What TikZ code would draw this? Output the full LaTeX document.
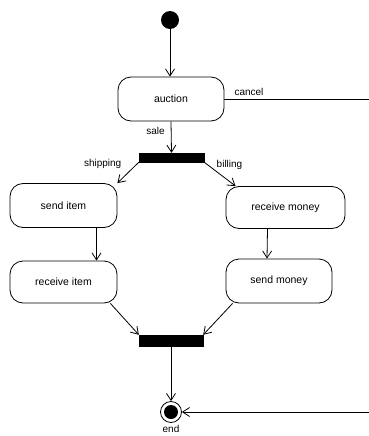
\documentclass[tikz,border=0pt]{standalone}
\usepackage{fontspec}
\setmainfont{Liberation Sans}
\usetikzlibrary{arrows.meta}
\begin{document}
\begin{tikzpicture}[x=1pt,y=-1pt,
  act/.style={draw,line width=0.8pt,rounded corners=13pt,inner sep=0pt,font=\fontsize{10.5}{12}\selectfont},
  bar/.style={fill=black,draw=black,inner sep=0pt},
  lbl/.style={font=\fontsize{10}{12}\selectfont,inner sep=1pt},
  flow/.style={draw,line width=0.8pt,-{Straight Barb[length=7pt,width=9pt,line width=0.8pt]}}]
\useasboundingbox (0,0) rectangle (369,436);
\node[circle,fill=black,minimum size=18pt,inner sep=0pt] (init) at (170,20) {};
\node[act,minimum width=106pt,minimum height=44pt] (auction) at (171,99) {auction};
\node[bar,minimum width=65pt,minimum height=9pt] (fork) at (171.5,157.5) {};
\node[act,minimum width=107pt,minimum height=44pt] (senditem) at (63.5,205.5) {send item};
\node[act,minimum width=119pt,minimum height=42pt] (recvmoney) at (285.5,207.5) {receive money};
\node[act,minimum width=107pt,minimum height=42pt] (recvitem) at (63.5,282) {receive item};
\node[act,minimum width=106pt,minimum height=44pt] (sendmoney) at (279,281) {send money};
\node[bar,minimum width=64pt,minimum height=11pt] (join) at (171,340.5) {};
\node[circle,draw,line width=0.8pt,minimum size=21pt,inner sep=0pt] (final) at (171,412) {};
\node[circle,fill=black,minimum size=14pt,inner sep=0pt] at (final) {};
\coordinate (cancelend) at (369,99);
\coordinate (endsrc) at (369,412);

\draw[flow] (init) -- (auction.north -| init);
\draw[line width=0.8pt] (auction.east) -- node[lbl,above,pos=0.17,yshift=2pt]{cancel} (cancelend);
\draw[flow] (auction.south) -- node[lbl,left,pos=0.3,xshift=-5pt]{sale} (fork.north);
\draw[flow] (fork.south west) -- node[lbl,left,pos=0.1,xshift=-14pt]{shipping} (senditem.north east);
\draw[flow] (fork.south east) -- node[lbl,right,pos=0.1,xshift=8pt]{billing} ([xshift=10pt]recvmoney.north west);
\draw[flow] ([xshift=33pt]senditem.south) -- ([xshift=33pt]recvitem.north);
\draw[flow] ([xshift=-18pt]recvmoney.south) -- ([xshift=-12pt]sendmoney.north);
\draw[flow] ([xshift=-7pt]recvitem.south east) -- (join.north west);
\draw[flow] ([xshift=7pt]sendmoney.south west) -- (join.north east);
\draw[flow] (join.south) -- (final.north);
\draw[flow] (endsrc) -- (final.east);
\node[lbl,below=1pt] at (final.south) {end};
\end{tikzpicture}
\end{document}
